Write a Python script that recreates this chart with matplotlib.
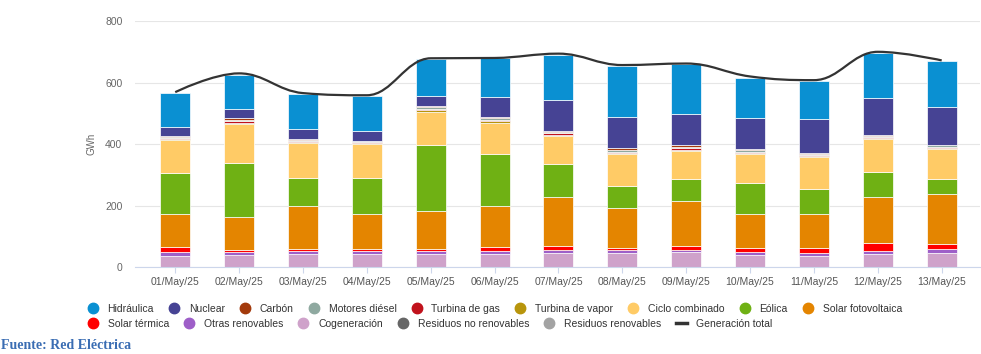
import numpy as np
import matplotlib
matplotlib.use("Agg")
import matplotlib.pyplot as plt
from matplotlib.path import Path
from matplotlib.patches import PathPatch
from matplotlib.lines import Line2D

plt.rcParams['font.family'] = ['Liberation Sans', 'DejaVu Sans']

# datos (GWh)
fechas = ['01/May/25', '02/May/25', '03/May/25', '04/May/25', '05/May/25', '06/May/25', '07/May/25',
          '08/May/25', '09/May/25', '10/May/25', '11/May/25', '12/May/25', '13/May/25']

hidraulica = [110, 112, 114, 113, 118, 127, 146, 167, 161, 130, 123, 144, 150]
nuclear = [30, 29, 33, 31, 34, 64, 101, 101, 100, 99, 110, 121, 122]
carbon = [2, 5, 2, 2, 4, 4, 3, 6, 6, 5, 2, 3, 2]
motores_diesel = [5, 5, 5, 4, 5, 5, 5, 5, 5, 5, 5, 5, 5]
turbina_gas = [3, 4, 3, 3, 5, 5, 4, 4, 5, 3, 3, 3, 3]
turbina_vapor = [3, 4, 3, 3, 4, 4, 3, 3, 3, 3, 3, 3, 3]
ciclo_combinado = [108, 126, 113, 110, 108, 101, 93, 104, 91, 96, 104, 105, 99]
eolica = [132, 177, 92, 116, 214, 171, 105, 73, 71, 100, 81, 81, 47]
solar_fv = [109, 106, 138, 114, 124, 133, 160, 128, 147, 111, 111, 152, 163]
solar_termica = [15, 8, 7, 7, 7, 13, 14, 7, 12, 13, 14, 23, 17]
otras_renovables = [12, 10, 10, 10, 10, 9, 9, 10, 9, 9, 12, 12, 12]
cogeneracion = [36, 37, 41, 41, 41, 41, 45, 45, 47, 38, 34, 41, 45]
residuos_no_renov = [1, 1, 1, 1, 1, 1, 1, 1, 1, 1, 1, 1, 1]
residuos_renov = [1, 1, 1, 1, 1, 1, 1, 1, 1, 1, 1, 1, 1]
generacion_total = [569, 630, 566, 559, 679, 680, 694, 657, 662, 620, 608, 700, 672]

# orden: primero = arriba de la pila (como highcharts)
series = [
    ('Hidráulica', hidraulica, '#0a90d2'),
    ('Nuclear', nuclear, '#464394'),
    ('Carbón', carbon, '#a33a0c'),
    ('Motores diésel', motores_diesel, '#8fa9a0'),
    ('Turbina de gas', turbina_gas, '#c1121c'),
    ('Turbina de vapor', turbina_vapor, '#b8950c'),
    ('Ciclo combinado', ciclo_combinado, '#ffcb66'),
    ('Eólica', eolica, '#6fb114'),
    ('Solar fotovoltaica', solar_fv, '#e48500'),
    ('Solar térmica', solar_termica, '#ff0000'),
    ('Otras renovables', otras_renovables, '#9e5fc8'),
    ('Cogeneración', cogeneracion, '#cfa2ca'),
    ('Residuos no renovables', residuos_no_renov, '#666666'),
    ('Residuos renovables', residuos_renov, '#a3a3a3'),
]


def spline_path(xs, ys):
    # curva tipo highcharts "spline" (smoothing 1.5)
    n = len(xs)
    rc = [None] * n
    verts = [(xs[0], ys[0])]
    codes = [Path.MOVETO]
    for i in range(1, n):
        x, y = xs[i], ys[i]
        lx, ly = xs[i - 1], ys[i - 1]
        lcx, lcy = x, y
        if i < n - 1:
            nx, ny = xs[i + 1], ys[i + 1]
            lcx = (1.5 * x + lx) / 2.5
            lcy = (1.5 * y + ly) / 2.5
            rcx = (1.5 * x + nx) / 2.5
            rcy = (1.5 * y + ny) / 2.5
            corr = 0
            if rcx != lcx:
                corr = (rcy - lcy) * (rcx - x) / (rcx - lcx) + y - rcy
            lcy += corr
            rcy += corr
            if lcy > ly and lcy > y:
                lcy = max(ly, y)
                rcy = 2 * y - lcy
            elif lcy < ly and lcy < y:
                lcy = min(ly, y)
                rcy = 2 * y - lcy
            if rcy > ny and rcy > y:
                rcy = max(ny, y)
                lcy = 2 * y - rcy
            elif rcy < ny and rcy < y:
                rcy = min(ny, y)
                lcy = 2 * y - rcy
            rc[i] = (rcx, rcy)
        p1 = rc[i - 1] if rc[i - 1] is not None else (lx, ly)
        verts += [p1, (lcx, lcy), (x, y)]
        codes += [Path.CURVE4] * 3
    return Path(verts, codes)


fig = plt.figure(figsize=(9.81, 3.54), dpi=100)
ax = fig.add_axes([0.1376, 0.2444, 0.8614, 0.6963])

x = np.arange(len(fechas))
bottom = np.zeros(len(fechas))
for nombre, vals, color in reversed(series):
    ax.bar(x, vals, width=0.47, bottom=bottom, color=color, edgecolor='white', linewidth=0.5, zorder=2)
    bottom += np.array(vals)

ax.add_patch(PathPatch(spline_path(x, generacion_total), fill=False, edgecolor='#333333', lw=1.6, zorder=3))

ax.set_xlim(-0.63, 12.6)
ax.set_ylim(0, 800)
ax.set_yticks([0, 200, 400, 600, 800])
ax.yaxis.grid(True, color='#e6e6e6', lw=0.8, zorder=0)
ax.set_axisbelow(True)
for s in ['top', 'right', 'left']:
    ax.spines[s].set_visible(False)
ax.spines['bottom'].set_color('#ccd6eb')
ax.set_xticks(x)
ax.set_xticklabels(fechas)
ax.tick_params(axis='x', length=4, color='#ccd6eb', labelsize=7.5, labelcolor='#555555', pad=3)
ax.tick_params(axis='y', length=0, labelsize=7.5, labelcolor='#666666', pad=9)
ax.set_ylabel('GWh', fontsize=7, color='#666666', labelpad=6)

# leyenda en dos filas
handles = []
for nombre, vals, color in series:
    handles.append(Line2D([], [], ls='none', marker='o', markersize=7.5, markerfacecolor=color,
                          markeredgecolor=color, label=nombre))
handles.append(Line2D([], [], color='#333333', lw=2.5, label='Generación total'))

leg1 = fig.legend(handles=handles[:9], ncol=9, loc='center left', bbox_to_anchor=(0.0895, 0.128),
                  frameon=False, fontsize=7.5, handlelength=1.0, handletextpad=0.9, columnspacing=1.45,
                  borderaxespad=0, borderpad=0)
leg2 = fig.legend(handles=handles[9:], ncol=6, loc='center left', bbox_to_anchor=(0.0895, 0.086),
                  frameon=False, fontsize=7.5, handlelength=1.0, handletextpad=0.9, columnspacing=1.45,
                  borderaxespad=0, borderpad=0)
for lg in (leg1, leg2):
    for t in lg.get_texts():
        t.set_color('#333333')

fig.text(0.001, 0.024, 'Fuente: Red Eléctrica', fontsize=10, fontweight='bold',
         family=['Liberation Serif', 'DejaVu Serif'], color='#3a6db3', ha='left', va='center')

fig.savefig('out.png', dpi=100, facecolor='white')
